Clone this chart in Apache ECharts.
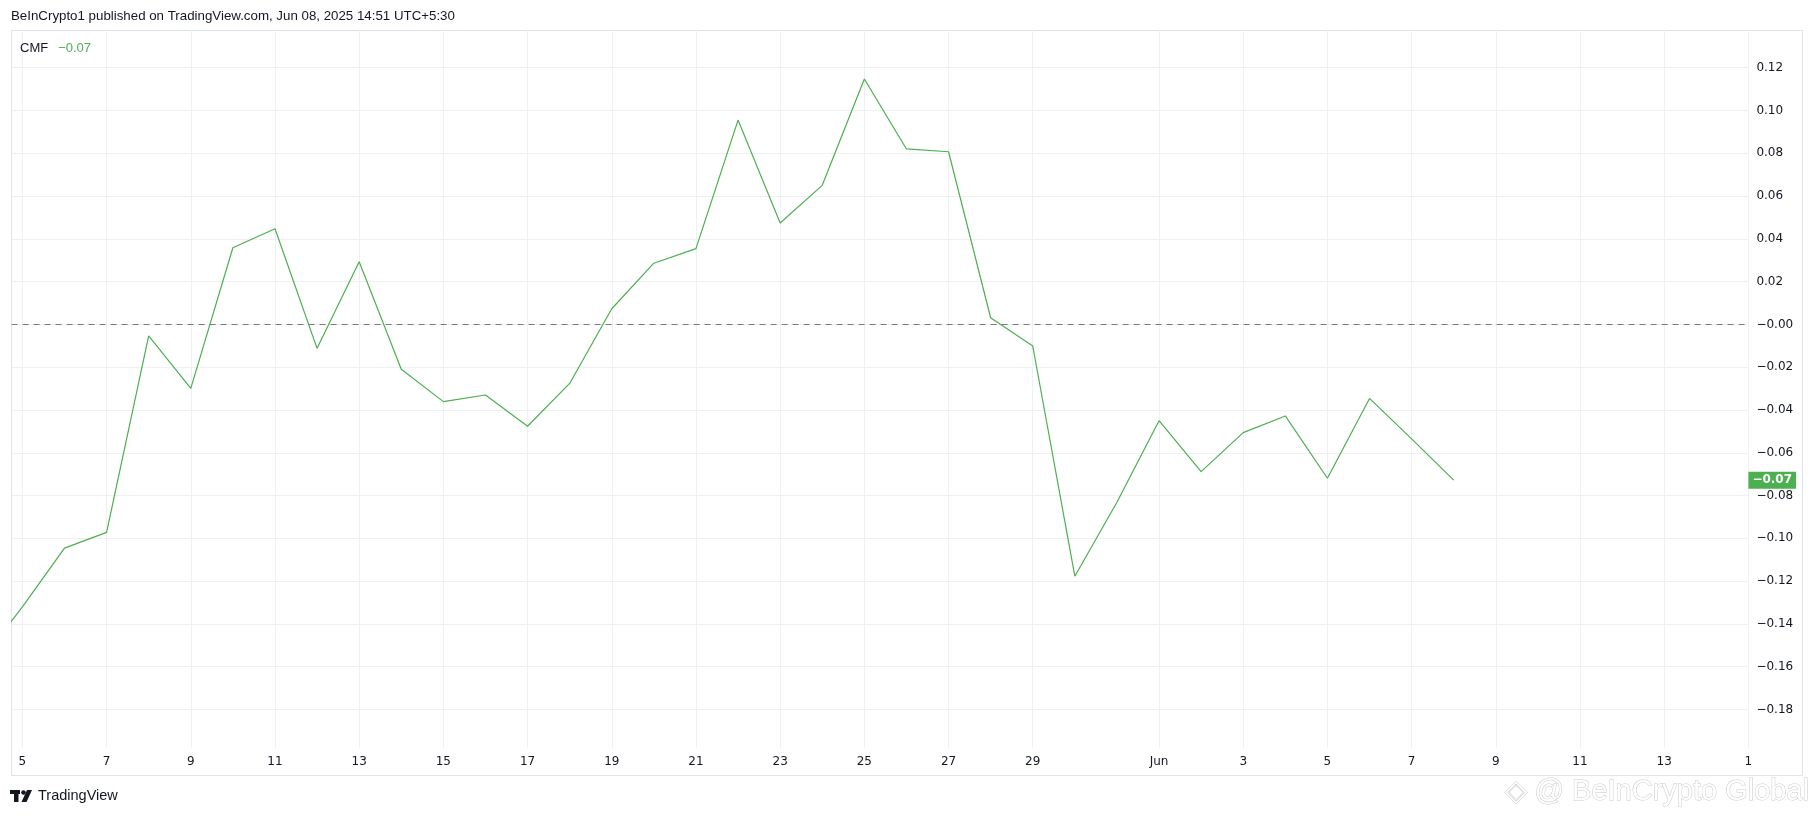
<!DOCTYPE html>
<html>
<head>
<meta charset="utf-8">
<script src="https://cdn.jsdelivr.net/npm/echarts@6/dist/echarts.min.js"></script>
<style>html,body{margin:0;padding:0;background:#fff}#c{width:1814px;height:816px}</style>
</head>
<body>
<div id="c"></div>
<script>
// Day numbers counted from 0 May 2025 (Jun d = 31 + d)
const dayNumbers = [4,5,6,7,8,9,10,11,12,13,14,15,16,17,18,19,20,21,22,23,24,25,26,27,28,29,30,31,32,33,34,35,36,37,38,39];
const cmfValues  = [-0.158,-0.132,-0.1046,-0.0972,-0.0054,-0.0299,0.0358,0.0447,-0.0112,0.0293,-0.0210,-0.0361,-0.0330,-0.0476,-0.0276,0.0073,0.0286,0.0354,0.0955,0.0474,0.0650,0.1147,0.0820,0.0807,0.0031,-0.0101,-0.1177,-0.0831,-0.0450,-0.0688,-0.0506,-0.0428,-0.0719,-0.0346,-0.0535,-0.0728];
const xTickValues = [5,7,9,11,13,15,17,19,21,23,25,27,29,32,34,36,38,40,42,44,46];
const xTickLabels = ['5','7','9','11','13','15','17','19','21','23','25','27','29','Jun','3','5','7','9','11','13','1'];
const yTickValues = [-0.18,-0.16,-0.14,-0.12,-0.10,-0.08,-0.06,-0.04,-0.02,0,0.02,0.04,0.06,0.08,0.10,0.12];
const yTickLabels = ['\u22120.18','\u22120.16','\u22120.14','\u22120.12','\u22120.10','\u22120.08','\u22120.06','\u22120.04','\u22120.02','\u22120.00','0.02','0.04','0.06','0.08','0.10','0.12'];
const headerText = 'BeInCrypto1 published on TradingView.com, Jun 08, 2025 14:51 UTC+5:30';
const indicatorName = 'CMF';
const lastValueText = '\u22120.07';

const green = '#4caf50';
const textColor = '#131722';
const lastValue = cmfValues[cmfValues.length - 1];

function labelFor(values, labels, v) {
  let best = 0, bd = Infinity;
  values.forEach((t, i) => { const d = Math.abs(t - v); if (d < bd) { bd = d; best = i; } });
  return bd < 1e-6 ? labels[best] : '';
}

const chart = echarts.init(document.getElementById('c'), null, {renderer: 'canvas'});
chart.setOption({
  backgroundColor: '#ffffff',
  animation: false,
  title: [
    {text: headerText, left: 11, top: 10, padding: 0,
     textStyle: {fontFamily: 'Liberation Sans', fontSize: 13.3, fontWeight: 'normal', color: textColor}},
    {text: '{n|' + indicatorName + '}  {v|' + lastValueText + '}', left: 20, top: 39, padding: 0,
     textStyle: {fontWeight: 'normal', rich: {
       n: {fontFamily: 'Liberation Sans', fontSize: 13, fontWeight: 'normal', color: textColor},
       v: {fontFamily: 'Liberation Sans', fontSize: 13, fontWeight: 'normal', color: green}
     }}}
  ],
  grid: {left: 11.6, right: 65.6, top: 30, bottom: 68, containLabel: false},
  xAxis: {
    type: 'value', min: 4.7435, max: 46,
    axisLine: {show: false},
    axisTick: {show: false, customValues: xTickValues},
    splitLine: {show: true, lineStyle: {color: '#eff0f3', width: 1}},
    axisLabel: {customValues: xTickValues, margin: 8, color: textColor, fontFamily: 'DejaVu Sans', fontSize: 12,
      formatter: v => labelFor(xTickValues, xTickLabels, v)}
  },
  yAxis: {
    type: 'value', position: 'right', min: -0.198, max: 0.1376,
    axisLine: {show: false},
    axisTick: {show: false, customValues: yTickValues},
    splitLine: {show: true, lineStyle: {color: '#eff0f3', width: 1}},
    axisLabel: {customValues: yTickValues, align: 'left', margin: 8, color: textColor, fontFamily: 'DejaVu Sans', fontSize: 12,
      formatter: v => labelFor(yTickValues, yTickLabels, v)}
  },
  series: [{
    type: 'line',
    data: dayNumbers.map((d, i) => [d, cmfValues[i]]),
    showSymbol: false, symbol: 'none',
    lineStyle: {color: green, width: 1.2},
    clip: true, silent: true,
    markLine: {
      silent: true, symbol: 'none', animation: false,
      data: [
        {yAxis: 0, lineStyle: {color: '#787b86', type: [6, 5], width: 1}, label: {show: false}},
        {yAxis: lastValue, lineStyle: {color: 'rgba(0,0,0,0)', width: 0},
         label: {show: true, position: 'end', distance: 0, offset: [0, 6], formatter: lastValueText,
                 backgroundColor: green, color: '#ffffff', fontFamily: 'DejaVu Sans', fontWeight: 'bold', fontSize: 12,
                 padding: [3, 4, 2, 4]}}
      ]
    }
  }],
  graphic: [
    {type: 'rect', z: -1, shape: {x: 11.5, y: 30.5, width: 1791, height: 745}, style: {fill: 'none', stroke: '#e0e3eb', lineWidth: 1}},
    {type: 'group', left: 10, top: 790, children: [
      {type: 'rect', shape: {x: 0, y: 0, width: 10, height: 4}, style: {fill: '#131722'}},
      {type: 'rect', shape: {x: 4, y: 0, width: 4.5, height: 12}, style: {fill: '#131722'}},
      {type: 'circle', shape: {cx: 13.5, cy: 2.5, r: 2.3}, style: {fill: '#131722'}},
      {type: 'polygon', shape: {points: [[17, 0], [22, 0], [16.5, 12], [11.5, 12]]}, style: {fill: '#131722'}}
    ]},
    {type: 'text', left: 38, top: 788, style: {text: 'TradingView', fontFamily: 'Liberation Sans', fontSize: 14.5, fill: textColor}},
    {type: 'text', left: 1504, top: 777, style: {text: '\u25C8 @ BeInCrypto Global', fontFamily: 'Liberation Sans', fontSize: 29, fill: '#ffffff', stroke: '#c9c9c9', lineWidth: 1}}
  ]
});
</script>
</body>
</html>
